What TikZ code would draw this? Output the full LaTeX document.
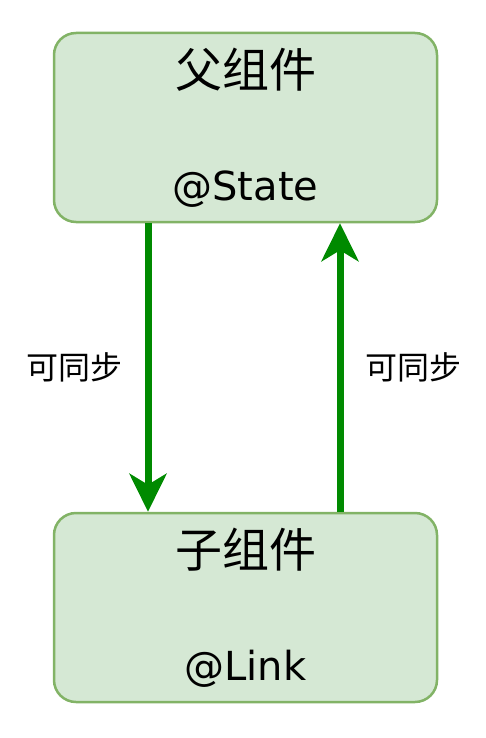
\documentclass[tikz,border=0pt]{standalone}
\usepackage{fontspec}
\setmainfont{DejaVu Sans}
\newfontfamily\cjk{Noto Sans CJK SC}
\usetikzlibrary{arrows.meta}

\definecolor{boxfill}{HTML}{D5E8D4}
\definecolor{boxline}{HTML}{82B366}
\definecolor{flowgreen}{HTML}{008A00}

\tikzstyle{box}=[rectangle,rounded corners=22pt,draw=boxline,fill=boxfill,line width=2.5pt,minimum width=383pt,minimum height=189pt,align=center,font=\fontsize{40}{48}\selectfont]
\tikzstyle{flow}=[-{Stealth[length=38pt,width=37pt,inset=11pt]},draw=flowgreen,line width=7pt]
\tikzstyle{sync}=[inner sep=0pt,font=\fontsize{32}{32}\selectfont\cjk]

\begin{document}
\begin{tikzpicture}[x=1pt,y=-1pt]
        \useasboundingbox (0,0) rectangle (486,738);

        \node[box] (parent) at (245.5,127.5) {{\fontsize{47}{47}\cjk 父组件}\\[65pt]@State};
        \node[box] (child)  [below of=parent, node distance=480pt] {{\fontsize{47}{47}\cjk 子组件}\\[65pt]@Link};

        \draw[flow] ([xshift=-97.5pt]parent.south) -- ([xshift=-97.5pt]child.north)
         node[sync,midway,left=22pt] {可同步};
        \draw[flow] ([xshift=94.5pt]child.north) -- ([xshift=94.5pt]parent.south)
         node[sync,midway,right=22pt] {可同步};
\end{tikzpicture}
\end{document}
